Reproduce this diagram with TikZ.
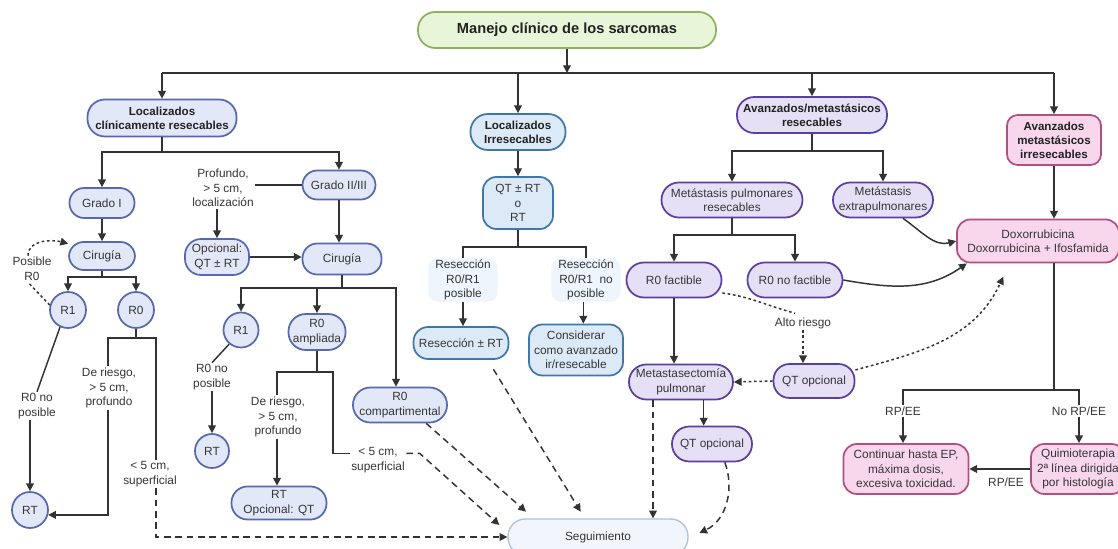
\documentclass[tikz,border=0pt]{standalone}
\usepackage{fontspec}
\setmainfont{Liberation Sans}
\usetikzlibrary{arrows.meta}
\definecolor{txt}{HTML}{363636}
\definecolor{dark}{HTML}{222222}
\definecolor{lnc}{HTML}{333333}
\definecolor{bfill}{HTML}{E3E8F8}
\definecolor{bline}{HTML}{5668B0}
\definecolor{ifill}{HTML}{DCEAF8}
\definecolor{iline}{HTML}{3F77A6}
\definecolor{pfill}{HTML}{E5E0F6}
\definecolor{pline}{HTML}{5B3EA0}
\definecolor{kfill}{HTML}{F8D6EC}
\definecolor{kline}{HTML}{B24F80}
\definecolor{gfill}{HTML}{E9F5D8}
\definecolor{gline}{HTML}{8BB25C}
\definecolor{lfill}{HTML}{EEF5FC}
\definecolor{sfill}{HTML}{F2F6FC}
\definecolor{sline}{HTML}{AEC1DD}
\newcommand\myfs{\fontsize{8.9}{10.8}\selectfont}
\newcommand\myfl{\fontsize{8.9}{11}\selectfont}
\tikzset{
 box/.style={draw, line width=1.3pt, font=\myfs, text=txt, align=center, inner sep=1pt},
 bld/.style={font=\fontsize{8.7}{10.6}\selectfont\bfseries, text=dark},
 wh/.style 2 args={minimum width=#1*0.75pt, minimum height=#2*0.75pt},
 pill/.style={rounded corners=11pt},
 rbox/.style={rounded corners=8pt},
 circ/.style={box, circle, minimum size=#1*0.75pt},
 blu/.style={fill=bfill, draw=bline},
 iblu/.style={fill=ifill, draw=iline},
 pur/.style={fill=pfill, draw=pline},
 pnk/.style={fill=kfill, draw=kline},
 grn/.style={fill=gfill, draw=gline},
 lab/.style={font=\myfl, text=txt, align=center, inner sep=1pt},
 pale/.style={lab, fill=lfill, rounded corners=7pt, minimum width=52pt, minimum height=31pt},
 ln/.style={draw=lnc, line width=1.1pt},
 arr/.style={ln, -{Triangle[length=5.8pt,width=5.8pt]}},
 dsh/.style={arr, dash pattern=on 5pt off 3.5pt},
 dtt/.style={arr, dash pattern=on 2pt off 2pt},
 dtl/.style={ln, dash pattern=on 2pt off 2pt},
}
\begin{document}
\begin{tikzpicture}[x=0.75pt,y=-0.75pt]
\fill[white] (0,0) rectangle (1118,549);
\useasboundingbox (0,0) rectangle (1118,549);

% ---------- top level
\node[box,grn,pill,wh={298}{36},font=\fontsize{11}{13}\selectfont\bfseries,text=dark,rounded corners=13pt] (title) at (567,30) {Manejo clínico de los sarcomas};
\node[box,blu,pill,bld,wh={149}{37},rounded corners=13pt] (lcr) at (162,118) {Localizados\\clínicamente resecables};
\node[box,iblu,pill,bld,wh={95}{36},rounded corners=13pt] (lir) at (518,132) {Localizados\\Irresecables};
\node[box,pur,pill,bld,wh={150}{36},rounded corners=13pt] (amr) at (812,115) {Avanzados/metastásicos\\resecables};
\node[box,pnk,rbox,bld,wh={94}{50}] (ami) at (1054,140) {Avanzados\\metastásicos\\irresecables};

% ---------- left branch
\node[box,blu,pill,wh={65}{30}] (g1) at (102,203) {Grado I};
\node[box,blu,pill,wh={73}{29}] (g2) at (339,185) {Grado II/III};
\node[lab] (prof) at (223,188) {Profundo,\\> 5 cm,\\localización};
\node[box,blu,pill,wh={64}{36},rounded corners=12pt] (opc) at (217,257) {Opcional:\\QT ± RT};
\node[box,blu,pill,wh={66}{28}] (cir1) at (102,256) {Cirugía};
\node[box,blu,pill,wh={79}{31}] (cir2) at (342,259) {Cirugía};
\node[circ=36,blu] (r1a) at (68,310) {R1};
\node[circ=36,blu] (r0a) at (136,310) {R0};
\node[lab] (posr0) at (32,269) {Posible\\R0};
\node[lab] (nop1) at (37,406) {R0 no\\posible};
\node[circ=36,blu] (rtA) at (30,510) {RT};
\node[lab] (dr1) at (109,388) {De riesgo,\\> 5 cm,\\profundo};
\node[lab] (sup1) at (150,474) {< 5 cm,\\superficial};
\node[circ=35,blu] (r1b) at (241,330) {R1};
\node[box,blu,pill,wh={57}{36},rounded corners=13pt] (r0amp) at (317,332) {R0\\ampliada};
\node[box,blu,pill,wh={94}{35},rounded corners=13pt] (r0comp) at (400,405) {R0\\compartimental};
\node[lab] (nop2) at (212,377) {R0 no\\posible};
\node[circ=34,blu] (rtB) at (212,451) {RT};
\node[lab] (dr2) at (278,417) {De riesgo,\\> 5 cm,\\profundo};
\node[box,blu,pill,wh={95}{33},rounded corners=12pt] (rtq) at (279,503) {RT\\Opcional: QT};
\node[lab] (sup2) at (378,460) {< 5 cm,\\superficial};

% ---------- irresecables branch
\node[box,iblu,rbox,wh={70}{52},rounded corners=10pt] (qtrt) at (518,203) {QT ± RT\\o\\RT};
\node[pale] (rpos) at (463,280) {Resección\\R0/R1\\posible};
\node[pale] (rnopos) at (586,280) {Resección\\R0/R1\ \ no\\posible};
\node[box,iblu,pill,wh={95}{32}] (resrt) at (461,343) {Resección ± RT};
\node[box,iblu,rbox,wh={94}{51},rounded corners=10pt] (cons) at (576,350) {Considerar\\como avanzado\\ir/resecable};

% ---------- metastasic resecable branch
\node[box,pur,pill,wh={141}{35},rounded corners=13pt] (mpr) at (732,200) {Metástasis pulmonares\\resecables};
\node[box,pur,pill,wh={100}{35},rounded corners=13pt] (mep) at (883,200) {Metástasis\\extrapulmonares};
\node[box,pur,pill,wh={95}{35},rounded corners=13pt] (r0f) at (674,280) {R0 factible};
\node[box,pur,pill,wh={95}{35},rounded corners=13pt] (r0nf) at (795,280) {R0 no factible};
\node[lab] (alto) at (803,323) {Alto riesgo};
\node[box,pur,pill,wh={81}{34},rounded corners=12pt] (qto1) at (814,381) {QT opcional};
\node[box,pur,pill,wh={104}{35},rounded corners=13pt] (meta) at (681,382) {Metastasectomía\\pulmonar};
\node[box,pur,pill,wh={80}{35},rounded corners=13pt] (qto2) at (712,444) {QT opcional};
\node[box,fill=sfill,draw=sline,line width=1pt,pill,wh={180}{36},rounded corners=13pt] (seg) at (598,537) {Seguimiento};

% ---------- irresecable metastasic branch
\node[box,pnk,rbox,wh={162}{43},rounded corners=10pt] (dox) at (1038,241) {Doxorrubicina\\Doxorrubicina + Ifosfamida};
\node[box,pnk,rbox,wh={125}{50},rounded corners=10pt] (cont) at (906,469) {Continuar hasta EP,\\máxima dosis,\\excesiva toxicidad.};
\node[box,pnk,rbox,wh={94}{50},rounded corners=10pt] (quim) at (1078,469) {Quimioterapia\\2ª línea dirigida\\por histología};
\node[lab] (rpee1) at (903,411) {RP/EE};
\node[lab] (norpee) at (1079,411) {No RP/EE};
\node[lab] (rpee2) at (1006,482) {RP/EE};

% ---------- connectors: top
\coordinate (bus) at (567,73);
\draw[arr] (title.south) -- (bus);
\draw[ln] (lcr |- bus) -- (ami |- bus);
\draw[arr] (lcr |- bus) -- (lcr.north);
\draw[arr] (lir |- bus) -- (lir.north);
\draw[arr] (amr |- bus) -- (amr.north);
\draw[arr] (ami |- bus) -- (ami.north);

% left tree
\coordinate (j1) at (162,152);
\draw[ln] (lcr.south) -- (j1);
\draw[arr] (j1) -| (g1.north);
\draw[arr] (j1) -| (g2.north);
\draw[ln] (g2.west) -- (g2.west -| prof.east);
\draw[arr] (prof.south -| opc) -- (opc.north);
\draw[arr] (opc.east) -- (opc.east -| cir2.west);
\draw[arr] (g2.south) -- (g2.south |- cir2.north);
\draw[arr] (g1.south) -- (cir1.north);
\coordinate (j2) at (102,277);
\draw[ln] (cir1.south) -- (j2);
\draw[arr] (j2) -| (r1a.north);
\draw[arr] (j2) -| (r0a.north);
\draw[dtl] (r1a.165) -- ([xshift=-3pt]posr0.south);
\draw[dtt] ([xshift=-3pt]posr0.north) to[out=90,in=165] (cir1.160);
\draw[ln] (r1a.245) -- (nop1.north);
\draw[arr] (nop1.south -| rtA) -- (rtA.north);
\coordinate (j3) at (136,338);
\coordinate (j3L) at (108,338);
\coordinate (j3R) at (156,338);
\draw[ln] (r0a.south) -- (j3);
\draw[ln] (j3) -- (j3L) -- (j3L |- dr1.north);
\draw[arr] (j3L |- dr1.south) |- (rtA.-15);
\draw[ln] (j3) -- (j3R) -- (j3R |- sup1.north);
\draw[dsh] (j3R |- sup1.south) |- (seg.west);

% second surgery tree
\coordinate (j4) at (342,288);
\draw[ln] (cir2.south) -- (j4);
\draw[arr] (j4) -| (r1b.north);
\draw[arr] (j4) -| (r0amp.north);
\draw[arr] (j4) -| ([xshift=-3pt]r0comp.north);
\draw[ln] (r1b.230) -- (nop2.north);
\draw[arr] (nop2.south) -- (rtB.north);
\coordinate (j5) at (317,372);
\coordinate (j5L) at (277,372);
\coordinate (j5R) at (333,372);
\draw[ln] (r0amp.south) -- (j5);
\draw[ln] (j5) -- (j5L) -- (j5L |- dr2.north);
\draw[arr] (j5L |- dr2.south) -- (j5L |- rtq.north);
\draw[ln] (j5) -- (j5R) |- ([yshift=5pt]sup2.west);
\draw[dsh] ([yshift=5pt]sup2.east) -- ++(10pt,0) -- ([xshift=-6pt,yshift=9pt]seg.west);
\draw[dsh] (r0comp.-35) -- ([xshift=14pt,yshift=5pt]seg.north west);
\draw[dsh] ([xshift=-12pt,yshift=-7pt]resrt.south east) -- ([xshift=-13pt,yshift=5pt]seg.north);

% irresecables tree
\draw[arr] (lir.south) -- (qtrt.north);
\coordinate (j6) at (518,247);
\draw[ln] (qtrt.south) -- (j6);
\draw[ln] (j6) -| (rpos.north);
\draw[ln] (j6) -| (rnopos.north);
\draw[arr] (rpos.south) -- (rpos.south |- resrt.north);
\draw[arr] ([xshift=-2pt]rnopos.south) -- ([xshift=-2pt]rnopos.south |- cons.north);

% metastasic resecable tree
\coordinate (j7) at (812,151);
\draw[ln] (amr.south) -- (j7);
\draw[arr] (j7) -| (mpr.north);
\draw[arr] (j7) -| (mep.north);
\coordinate (j8) at (732,235);
\draw[ln] (mpr.south) -- (j8);
\draw[arr] (j8) -| (r0f.north);
\draw[arr] (j8) -| (r0nf.north);
\draw[arr] (r0f.south) -- (r0f.south |- meta.north);
\draw[dtl] (r0f.-15) to[out=-8,in=165] ([xshift=-6pt,yshift=2pt]alto.north);
\draw[dtt] (alto.south) -- (alto.south |- qto1.north);
\draw[dtt] (qto1.west) -- (meta.east);
\draw[arr] ([xshift=17pt]meta.south) -- ([xshift=17pt]meta.south |- qto2.north);
\draw[dsh] ([xshift=-21pt]meta.south) -- ([xshift=-21pt]meta.south |- seg.north);
\draw[dsh] (qto2.-55) to[out=-70,in=25] ([xshift=8pt,yshift=3pt]seg.east);
\draw[dtt] (qto1.15) to[out=15,in=-115] ([xshift=-26pt,yshift=-10pt]dox.south);
\draw[arr] ([xshift=15pt]mep.south) to[out=-35,in=195] (dox.west);
\draw[arr] (r0nf.east) to[out=-10,in=215] ([xshift=8pt]dox.south west);

% irresecable metastasic tree
\draw[arr] (ami.south) -- (ami.south |- dox.north);
\coordinate (j9) at (1054,390);
\draw[ln] (dox.south -| j9) -- (j9);
\draw[ln] (j9) -| (rpee1.north);
\draw[ln] (j9) -| (norpee.north);
\draw[arr] (rpee1.south) -- (rpee1.south |- cont.north);
\draw[arr] (norpee.south) -- (norpee.south |- quim.north);
\draw[arr] (quim.west) -- (cont.east);
\end{tikzpicture}
\end{document}
